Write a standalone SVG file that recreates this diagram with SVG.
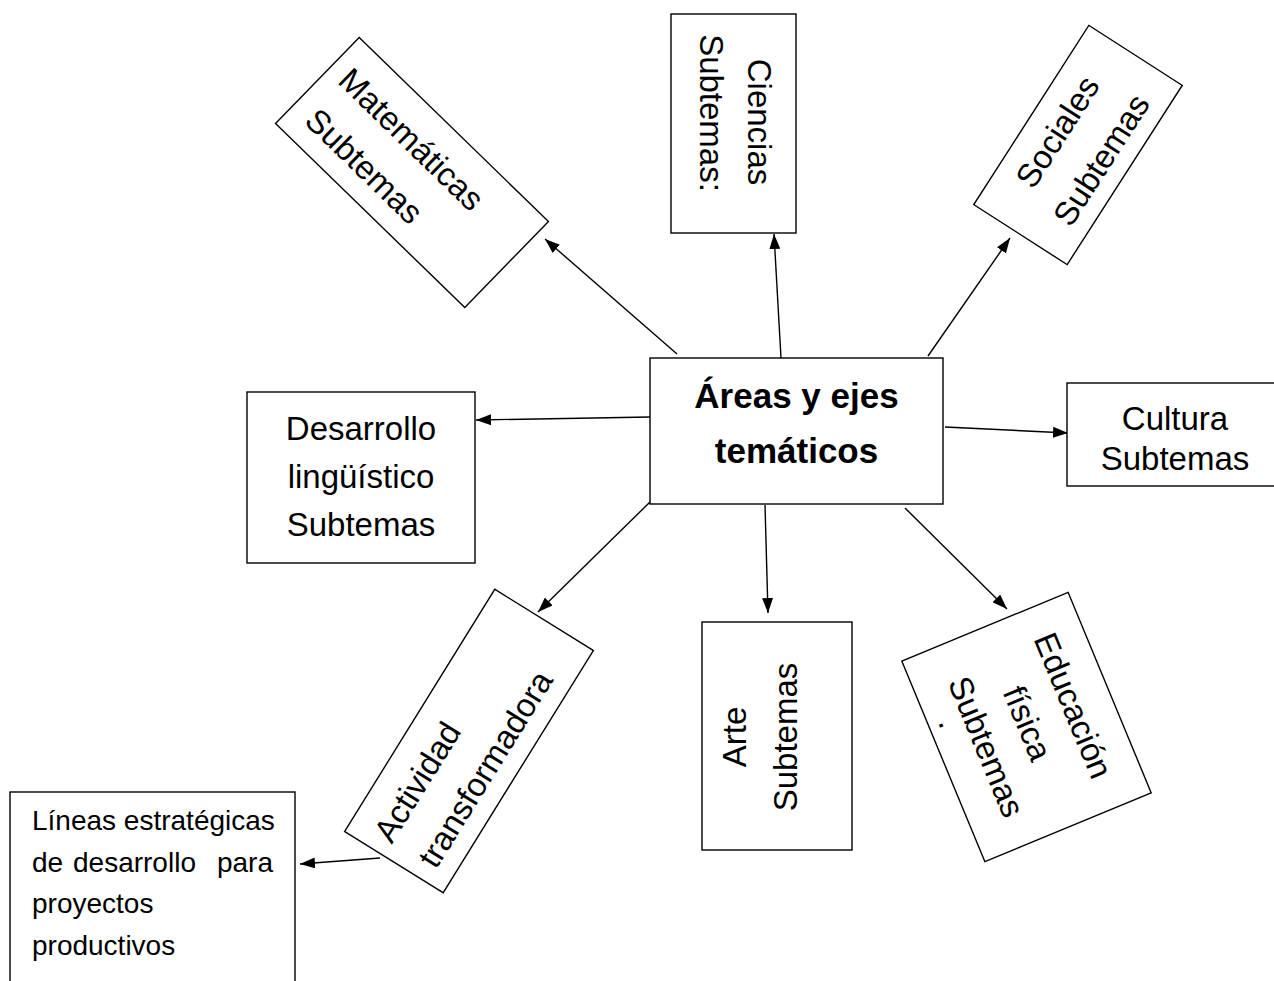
<svg xmlns="http://www.w3.org/2000/svg" width="1274" height="981" viewBox="0 0 1274 981">
<defs>
<marker id="arr" markerUnits="userSpaceOnUse" markerWidth="15" markerHeight="11" refX="15" refY="5.5" orient="auto">
<path d="M0,0 L15,5.5 L0,11 z" fill="#000"/>
</marker>
</defs>
<style>
.box{fill:#fff;stroke:#000;stroke-width:1.4}
.t{font-family:"Liberation Sans",Arial,sans-serif;font-size:33px;fill:#000}
.c{text-anchor:middle}
.b{font-weight:bold;font-size:35px}
.s{font-size:28px}
.con line{stroke:#000;stroke-width:1.4;marker-end:url(#arr)}
</style>
<rect width="1274" height="981" fill="#fff"/>
<g id="connectors" class="con">
<line x1="677" y1="354" x2="545" y2="239"/>
<line x1="781" y1="358" x2="774" y2="234"/>
<line x1="928" y1="356" x2="1010" y2="238"/>
<line x1="650" y1="417" x2="476" y2="420"/>
<line x1="945" y1="427" x2="1068" y2="433"/>
<line x1="650" y1="502" x2="538" y2="612"/>
<line x1="765" y1="505" x2="768" y2="613"/>
<line x1="905" y1="508" x2="1007" y2="609"/>
<line x1="380" y1="858" x2="300" y2="864"/>
</g>
<g id="central">
<rect class="box" x="650" y="358" width="293" height="146"/>
<text class="t c b" x="796.5" y="408">Áreas y ejes</text>
<text class="t c b" x="796.5" y="463">temáticos</text>
</g>
<g id="matematicas" transform="translate(412,172.5) rotate(44.2)">
<rect class="box" x="-132" y="-60" width="264" height="120"/>
<text class="t" x="-117" y="-12">Matemáticas</text>
<text class="t" x="-113" y="40">Subtemas</text>
</g>
<g id="ciencias">
<rect class="box" x="671" y="14" width="125" height="219"/>
<text class="t c" transform="translate(748,122) rotate(90)">Ciencias</text>
<text class="t c" transform="translate(700,113) rotate(90)">Subtemas:</text>
</g>
<g id="sociales" transform="translate(1078,145) rotate(-57.3)">
<rect class="box" x="-106.5" y="-55.5" width="213" height="111"/>
<text class="t c" x="0" y="-13">Sociales</text>
<text class="t c" x="0" y="39">Subtemas</text>
</g>
<g id="desarrollo">
<rect class="box" x="247" y="392" width="228" height="171"/>
<text class="t c" x="361" y="440">Desarrollo</text>
<text class="t c" x="361" y="488">lingüístico</text>
<text class="t c" x="361" y="536">Subtemas</text>
</g>
<g id="cultura">
<rect class="box" x="1067" y="383" width="230" height="103"/>
<text class="t c" x="1175" y="430">Cultura</text>
<text class="t c" x="1175" y="470">Subtemas</text>
</g>
<g id="actividad" transform="translate(469,741) rotate(-58.2)">
<rect class="box" x="-142.5" y="-58" width="285" height="116"/>
<text class="t" x="-129" y="-11">Actividad</text>
<text class="t" x="-127" y="40">transformadora</text>
</g>
<g id="arte">
<rect class="box" x="702" y="622" width="150" height="228"/>
<text class="t c" transform="translate(746,737) rotate(-90)">Arte</text>
<text class="t c" transform="translate(797,737) rotate(-90)">Subtemas</text>
</g>
<g id="educacion" transform="translate(1026.5,727) rotate(67.5)">
<rect class="box" x="-108.5" y="-90" width="217" height="180"/>
<text class="t c" x="-2" y="-40">Educación</text>
<text class="t c" x="-3" y="9">física</text>
<text class="t c" x="3" y="56">Subtemas</text>
<text class="t c" x="-34" y="80">.</text>
</g>
<g id="lineas">
<rect class="box" x="10" y="792" width="285" height="210"/>
<text class="t s" x="32" y="830">Líneas estratégicas</text>
<text class="t s" y="872"><tspan x="32">de</tspan><tspan x="73">desarrollo</tspan><tspan x="273" text-anchor="end">para</tspan></text>
<text class="t s" x="32" y="913">proyectos</text>
<text class="t s" x="32" y="955">productivos</text>
</g>
</svg>
